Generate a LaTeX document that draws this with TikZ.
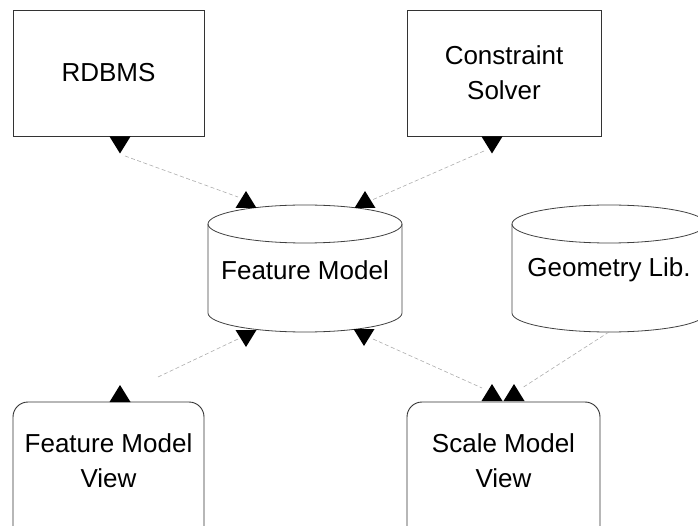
\documentclass[tikz,border=0pt]{standalone}
\usepackage{fontspec}
\setmainfont{Liberation Sans}
\begin{document}
\begin{tikzpicture}[x=1pt,y=-1pt,
  label/.style={font=\fontsize{26}{35}\selectfont, align=center, inner sep=0pt},
  block/.style={draw=black!80, line width=0.9pt, inner sep=0pt},
  roundblock/.style={block, rounded corners=15pt},
  cyl/.style={draw=black!75, line width=0.8pt},
  link/.style={draw=gray!65, line width=0.6pt, dash pattern=on 4pt off 2.5pt},
  tipdown/.pic={\fill[black] (-10.5,0) -- (10.5,0) -- (0,17) -- cycle;},
  tipup/.pic={\fill[black] (-10.5,0) -- (10.5,0) -- (0,-17) -- cycle;}]
\useasboundingbox (0,0) rectangle (698,526);
\clip (0,0) rectangle (698,526);

% rectangular components
\node[block, minimum width=191pt, minimum height=126pt] (rdbms) at (108.5,73) {};
\node[label] at (rdbms.center) {RDBMS};
\node[block, minimum width=194pt, minimum height=126pt] (solver) at (504,73) {};
\node[label] at (solver.center) {Constraint\\Solver};

% views (rounded, running past the lower edge)
\node[roundblock, minimum width=191pt, minimum height=170pt] (fmv) at (108.5,487) {};
\node[label] (fmvtext) at (108.5,461) {Feature Model\\View};
\node[roundblock, minimum width=193pt, minimum height=170pt] (smv) at (503.5,487) {};
\node[label] (smvtext) at (503.5,461) {Scale Model\\View};

% data stores drawn as cylinders
\draw[cyl] (305,224) ellipse [x radius=97, y radius=19];
\draw[cyl] (208,224) -- (208,313) arc[start angle=180, end angle=0, x radius=97, y radius=19] -- (402,224);
\node[label] (fm) at (305,270) {Feature Model};
\draw[cyl] (609,224) ellipse [x radius=97, y radius=19];
\draw[cyl] (512,224) -- (512,313) arc[start angle=180, end angle=0, x radius=97, y radius=19] -- (706,224);
\node[label] (geo) at (609,270) {Geometry Lib.};

% connector ends
\coordinate (rdbmsEnd) at (125,156);
\coordinate (fmTopL) at (238,197);
\coordinate (solverEnd) at (484,151);
\coordinate (fmTopR) at (372,200);
\coordinate (fmBotL) at (238,339);
\coordinate (fmvEnd) at (158,377);
\coordinate (fmBotR) at (373,339);
\coordinate (smvEndL) at (482,388);
\coordinate (geoBot) at (609,332);
\coordinate (smvEndR) at (522,388);

% connectors
\draw[link] (rdbmsEnd) -- (fmTopL);
\draw[link] (solverEnd) -- (fmTopR);
\draw[link] (fmvEnd) -- (fmBotL);
\draw[link] (fmBotR) -- (smvEndL);
\draw[link] (geoBot) -- (smvEndR);

% triangular port markers
\pic at (120,136.5) {tipdown};
\pic at (492,136.5) {tipdown};
\pic at (246,208) {tipup};
\pic at (365,208) {tipup};
\pic at (246,330) {tipdown};
\pic at (364,329) {tipdown};
\pic at (120,402) {tipup};
\pic at (492,401) {tipup};
\pic at (514,401) {tipup};
\end{tikzpicture}
\end{document}
